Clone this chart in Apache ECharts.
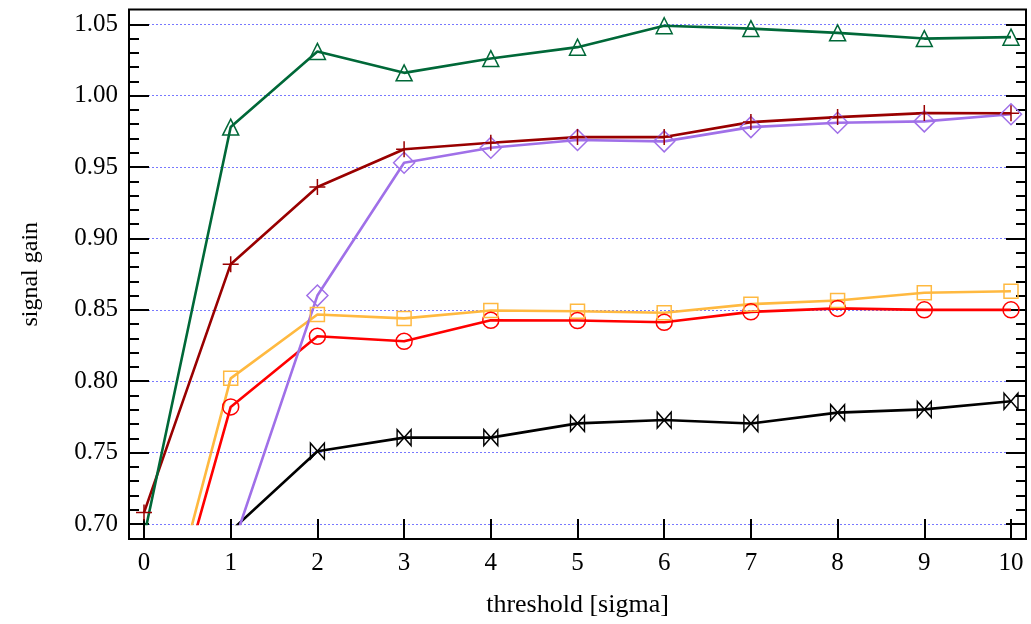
<!DOCTYPE html>
<html>
<head>
<meta charset="utf-8">
<script src="https://cdn.jsdelivr.net/npm/echarts@6/dist/echarts.min.js"></script>
<style>
	html, body { margin: 0; padding: 0; background: #fff; }
	#chart { width: 1031px; height: 624px; }
</style>
</head>
<body>
<div id="chart"></div>
<script>
	// 阈值 (x)
	const thresholds = [0, 1, 2, 3, 4, 5, 6, 7, 8, 9, 10];
	// 各曲线的信号增益, null = 不在图中
	const gainTriangle = [0.691, 0.978, 1.031, 1.016, 1.026, 1.034, 1.049, 1.047, 1.044, 1.040, 1.041];
	const gainPlus = [0.708, 0.882, 0.936, 0.9625, 0.967, 0.971, 0.971, 0.9815, 0.985, 0.9878, 0.9877];
	const gainDiamond = [null, 0.680, 0.860, 0.953, 0.9635, 0.969, 0.968, 0.978, 0.981, 0.982, 0.987];
	const gainSquare = [0.572, 0.802, 0.8467, 0.844, 0.8495, 0.849, 0.848, 0.854, 0.8565, 0.862, 0.863];
	const gainCircle = [0.566, 0.782, 0.8315, 0.828, 0.8427, 0.8425, 0.8413, 0.8486, 0.851, 0.850, 0.850];
	const gainBowtie = [null, 0.695, 0.751, 0.7605, 0.7605, 0.7705, 0.7728, 0.7704, 0.778, 0.7803, 0.786];

	// 刻度
	const yTicks = [0.70, 0.75, 0.80, 0.85, 0.90, 0.95, 1.00, 1.05];
	const yMinorTicks = [];
	yTicks.slice(0, -1).forEach((t) => {
		for (let k = 1; k < 5; k++) yMinorTicks.push(+(t + k * 0.01).toFixed(2));
	});

	const font = "Liberation Serif";
	const plusPath = "path://M0,5L10,5M5,0L5,10";
	const bowtiePath = "path://M0,0L10,10L10,0L0,10Z";

	// 像素布局: 数据区 与 外框
	const W = 1031, H = 624;
	const inner = { left: 144, right: 1011, top: 24.3, bottom: 524 };
	const frame = { left: 129, right: 1026, top: 9.5, bottom: 539 };
	const xMin = 0, xMax = 10, yMin = 0.7, yMax = 1.05;
	const pxX = (inner.right - inner.left) / (xMax - xMin);
	const pxY = (inner.bottom - inner.top) / (yMax - yMin);
	// 外框对应的数值范围
	const fxMin = xMin - (inner.left - frame.left) / pxX;
	const fxMax = xMax + (frame.right - inner.right) / pxX;
	const fyMin = yMin - (frame.bottom - inner.bottom) / pxY;
	const fyMax = yMax + (inner.top - frame.top) / pxY;

	const toPairs = (vals) => thresholds.map((x, i) => [x, vals[i] === null ? "-" : vals[i]]);

	const makeSeries = (vals, color, symbol, size) => ({
		type: "line",
		xAxisIndex: 0,
		yAxisIndex: 0,
		data: toPairs(vals),
		symbol: symbol,
		symbolSize: size,
		showAllSymbol: true,
		clip: true,
		lineStyle: { color: color, width: 2.6 },
		itemStyle: { color: "transparent", borderColor: color, borderWidth: 1.5 },
		emphasis: { disabled: true },
		z: 3,
	});

	const tickStyle = { color: "#000", width: 2 };
	const noLine = { show: false, onZero: false };

	// 外框上的刻度线 (不带标签)
	const frameTicksY = (position, values, length) => ({
		type: "value",
		gridIndex: 1,
		position: position,
		min: fyMin,
		max: fyMax,
		axisLine: noLine,
		axisTick: { show: true, inside: true, length: length, customValues: values, lineStyle: tickStyle },
		axisLabel: { show: false },
		splitLine: { show: false },
	});

	const myChart = echarts.init(document.getElementById("chart"));

	myChart.setOption({
		animation: false,
		backgroundColor: "#fff",
		grid: [
			// 数据区 (裁剪到 0.70)
			{ left: inner.left, right: W - inner.right, top: inner.top, bottom: H - inner.bottom, outerBoundsMode: "none" },
			// 外框
			{ left: frame.left, right: W - frame.right, top: frame.top, bottom: H - frame.bottom, outerBoundsMode: "none", show: true, borderColor: "#000", borderWidth: 2, backgroundColor: "transparent" },
		],
		xAxis: [
			{
				type: "value",
				gridIndex: 0,
				position: "bottom",
				min: xMin,
				max: xMax,
				interval: 1,
				axisLine: noLine,
				axisTick: { show: false },
				axisLabel: { show: false },
				splitLine: { show: false },
			},
			{
				// 刻度线
				type: "value",
				gridIndex: 1,
				position: "bottom",
				min: fxMin,
				max: fxMax,
				axisLine: noLine,
				axisTick: { show: true, inside: true, length: 20, customValues: thresholds, lineStyle: tickStyle },
				axisLabel: { show: false },
				splitLine: { show: false },
			},
			{
				// 标签与标题
				type: "value",
				gridIndex: 1,
				position: "bottom",
				min: fxMin,
				max: fxMax,
				name: "threshold [sigma]",
				nameLocation: "middle",
				nameGap: 53,
				nameTextStyle: { fontFamily: font, fontSize: 26, color: "#000" },
				axisLine: noLine,
				axisTick: { show: false },
				axisLabel: { show: true, customValues: thresholds, fontFamily: font, fontSize: 25, color: "#000", margin: 12 },
				splitLine: { show: false },
			},
		],
		yAxis: [
			{
				// 网格线
				type: "value",
				gridIndex: 0,
				position: "left",
				min: yMin,
				max: yMax,
				interval: 0.05,
				axisLine: noLine,
				axisTick: { show: false },
				axisLabel: { show: false },
				splitLine: { show: true, lineStyle: { color: "#7878ff", width: 1, type: [2, 2] } },
			},
			{
				// 标签与标题
				type: "value",
				gridIndex: 1,
				position: "left",
				min: fyMin,
				max: fyMax,
				name: "signal gain",
				nameLocation: "middle",
				nameGap: 86,
				nameTextStyle: { fontFamily: font, fontSize: 24, color: "#000" },
				axisLine: noLine,
				axisTick: { show: false },
				axisLabel: { show: true, customValues: yTicks, fontFamily: font, fontSize: 25, color: "#000", margin: 11, formatter: (v) => v.toFixed(2) },
				splitLine: { show: false },
			},
			frameTicksY("left", yTicks, 20),
			frameTicksY("left", yMinorTicks, 10),
			frameTicksY("right", yTicks, 20),
			frameTicksY("right", yMinorTicks, 10),
		],
		series: [
			makeSeries(gainBowtie, "#000000", bowtiePath, [14, 16]),
			makeSeries(gainCircle, "#ff0000", "circle", 16),
			makeSeries(gainSquare, "#ffb940", "rect", 14),
			makeSeries(gainDiamond, "#a070e8", "diamond", 21),
			makeSeries(gainPlus, "#990000", plusPath, 16),
			makeSeries(gainTriangle, "#006838", "triangle", 16),
		],
	});
</script>
</body>
</html>
